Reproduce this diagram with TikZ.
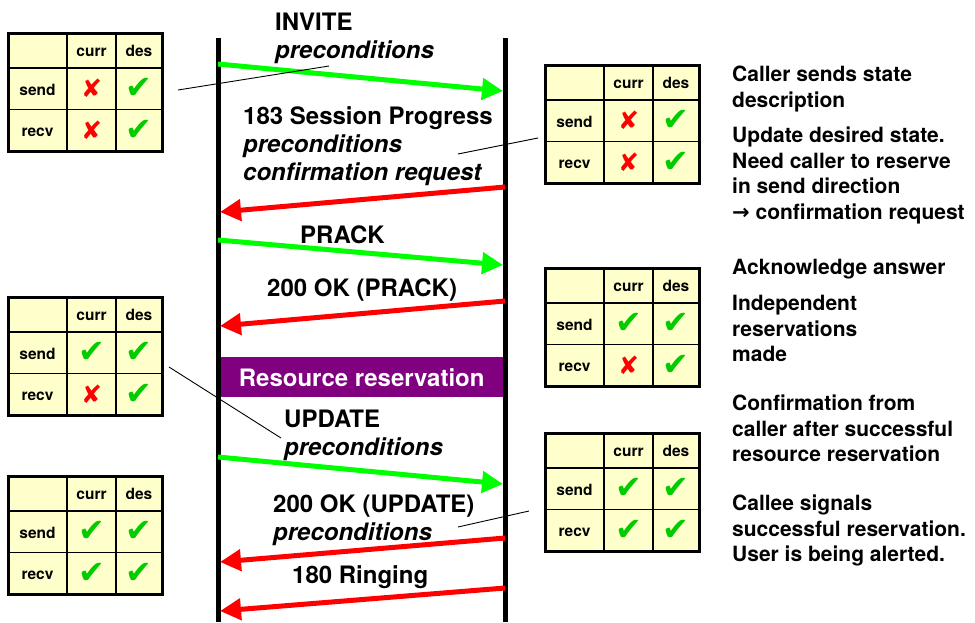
\documentclass[tikz,border=0pt]{standalone}
\usepackage{fontspec}
\setmainfont{TeX Gyre Heros}
\newfontfamily\symfont{DejaVu Sans}
\usetikzlibrary{arrows.meta, positioning, fit, calc}

\definecolor{msggreen}{HTML}{00FF00}
\definecolor{msgred}{HTML}{FF0000}
\definecolor{tickgreen}{HTML}{00CC00}
\definecolor{cellyellow}{HTML}{FFFFCC}
\definecolor{resvpurple}{HTML}{800080}

\newcommand{\okmark}{{\symfont\fontsize{32}{32}\selectfont\color{tickgreen}✔}}
\newcommand{\nomark}{{\symfont\fontsize{25}{25}\selectfont\color{msgred}✘}}

\begin{document}
\begin{tikzpicture}[
  x=1pt, y=-1pt,
  font=\bfseries,
  every node/.style={align=left},
  lifeline/.style={line width=5pt},
  msg/.style={line width=5pt, -{Triangle[length=21pt, width=21pt]}},
  msglabel/.style={font=\fontsize{24}{28}\selectfont\bfseries, anchor=north west, inner sep=0pt},
  note/.style={font=\fontsize{21}{25.5}\selectfont\bfseries, anchor=north west, inner sep=0pt},
  callout/.style={line width=0.9pt},
  cell/.style={draw, line width=1.5pt, fill=cellyellow, inner sep=0pt, outer sep=0pt,
               font=\fontsize{15.5}{18}\selectfont\bfseries, anchor=north west, minimum height=41.5pt},
  celltext/.style={cell, text height=12.5pt, text depth=0pt},
  frame/.style={draw, line width=3pt, inner sep=0pt},
]
\useasboundingbox (0,0) rectangle (975,622);

% resource reservation bar
\node [fill=resvpurple, text=white, anchor=north west, minimum width=287pt, minimum height=40pt,
       font=\fontsize{24}{28}\selectfont\bfseries] (resv) at (218,357) {Resource reservation};

% lifelines
\coordinate (callerTop) at (218,38);
\coordinate (callerBot) at (218,622);
\coordinate (calleeTop) at (505,38);
\coordinate (calleeBot) at (505,622);
\draw [lifeline] (callerTop) -- (callerBot);
\draw [lifeline] (calleeTop) -- (calleeBot);

% message end points
\coordinate (invite-s) at (218,64);
\coordinate (invite-e) at (503,91);
\coordinate (prog-s) at (505,187);
\coordinate (prog-e) at (220,212);
\coordinate (prack-s) at (218,240);
\coordinate (prack-e) at (503,265);
\coordinate (okprack-s) at (505,301);
\coordinate (okprack-e) at (220,326);
\coordinate (update-s) at (218,457);
\coordinate (update-e) at (503,484);
\coordinate (okupdate-s) at (505,538);
\coordinate (okupdate-e) at (220,562);
\coordinate (ringing-s) at (505,588);
\coordinate (ringing-e) at (220,611);

% messages
\draw [msg, msggreen] (invite-s) -- (invite-e);
\draw [msg, msgred] (prog-s) -- (prog-e);
\draw [msg, msggreen] (prack-s) -- (prack-e);
\draw [msg, msgred] (okprack-s) -- (okprack-e);
\draw [msg, msggreen] (update-s) -- (update-e);
\draw [msg, msgred] (okupdate-s) -- (okupdate-e);
\draw [msg, msgred] (ringing-s) -- (ringing-e);

% message labels
\node [msglabel] (inviteLbl) at (275,13) {INVITE\\\textit{preconditions}};
\node [msglabel] (progLbl) at (243,106) {183 Session Progress\\\textit{preconditions}\\\textit{confirmation request}};
\node [msglabel] (prackLbl) at (300,226) {PRACK};
\node [msglabel] (okprackLbl) at (267,279) {200 OK (PRACK)};
\node [msglabel] (updateLbl) at (284,410) {UPDATE\\\textit{preconditions}};
\node [msglabel] (okupdateLbl) at (273,495) {200 OK (UPDATE)\\\textit{preconditions}};
\node [msglabel] (ringingLbl) at (292,565) {180 Ringing};

% state tables
\foreach \t/\x/\y/\sendcurr/\recvcurr in {
    tabA/8/33/\nomark/\nomark,
    tabB/545/65/\nomark/\nomark,
    tabC/545/268/\okmark/\nomark,
    tabD/8/297/\okmark/\nomark,
    tabE/545/433/\okmark/\okmark,
    tabF/8/476/\okmark/\okmark}
{
  \node [cell, minimum width=59pt, minimum height=35pt] (\t-corner) at (\x,\y) {};
  \node [celltext, minimum width=49pt, minimum height=35pt] (\t-curr) at (\t-corner.north east) {curr};
  \node [celltext, minimum width=46pt, minimum height=35pt] (\t-des) at (\t-curr.north east) {des};
  \node [celltext, minimum width=59pt] (\t-send) at (\t-corner.south west) {send};
  \node [cell, minimum width=49pt] (\t-sendcurr) at (\t-send.north east) {\sendcurr};
  \node [cell, minimum width=46pt] (\t-senddes) at (\t-sendcurr.north east) {\okmark};
  \node [celltext, minimum width=59pt] (\t-recv) at (\t-send.south west) {recv};
  \node [cell, minimum width=49pt] (\t-recvcurr) at (\t-recv.north east) {\recvcurr};
  \node [cell, minimum width=46pt] (\t-recvdes) at (\t-recvcurr.north east) {\okmark};
  \node [frame, fit=(\t-corner) (\t-recvdes)] (\t) {};
}

% callouts
\coordinate (tabA-ptr) at (178,90);
\coordinate (tabA-end) at (329,66);
\coordinate (tabB-ptr) at (538,138);
\coordinate (tabB-end) at (458,154);
\coordinate (tabD-ptr) at (169,367);
\coordinate (tabD-end) at (281,438);
\coordinate (tabE-ptr) at (529,511);
\coordinate (tabE-end) at (458,527);
\draw [callout] (tabA-ptr) -- (tabA-end);
\draw [callout] (tabB-ptr) -- (tabB-end);
\draw [callout] (tabD-ptr) -- (tabD-end);
\draw [callout] (tabE-ptr) -- (tabE-end);

% notes
\node [note] (noteInvite) at (732,66) {Caller sends state\\description};
\node [note] (noteProg) at (732,127) {Update desired state.\\Need caller to reserve\\in send direction\\{\symfont\bfseries →} confirmation request};
\node [note] (notePrack) at (732,259) {Acknowledge answer};
\node [note] (noteResv) at (732,295) {Independent\\reservations\\made};
\node [note] (noteUpdate) at (732,395) {Confirmation from\\caller after successful\\resource reservation};
\node [note] (noteRinging) at (732,495) {Callee signals\\successful reservation.\\User is being alerted.};

\end{tikzpicture}
\end{document}
